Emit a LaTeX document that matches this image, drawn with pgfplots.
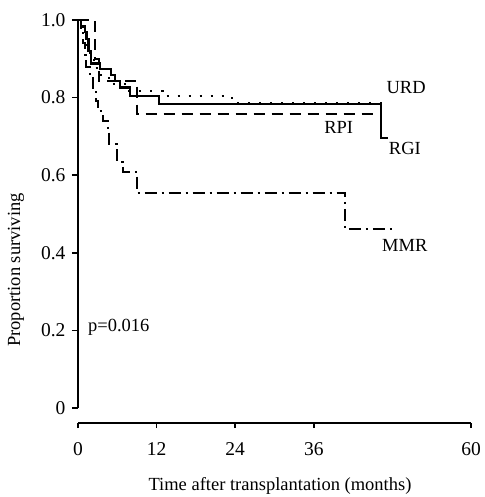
\documentclass[border=0pt]{standalone}
\usepackage{pgfplots}
\pgfplotsset{compat=1.18}
\usepackage{fontspec}
\setmainfont{Liberation Serif}

\newcommand{\lab}{\fontsize{18.5bp}{20bp}\selectfont}

\begin{document}
\begin{tikzpicture}
\path[use as bounding box] (-78bp,-89bp) rectangle (407bp,408bp);
\begin{axis}[
  at={(0,0)}, anchor=south west,
  scale only axis, width=393bp, height=388bp,
  xmin=0, xmax=60, ymin=0, ymax=1,
  axis x line=none, axis y line=left,
  y axis line style={-, line width=1.9bp},
  ytick={0,0.2,0.4,0.6,0.8,1.0},
  yticklabels={0,0.2,0.4,0.6,0.8,1.0},
  tick align=outside, major tick length=6bp,
  ytick style={line width=1.6bp, black},
  yticklabel style={font=\fontsize{19.5bp}{21bp}\selectfont, xshift=-3bp},
  clip=false,
]
% RGI
\addplot[const plot, black, line width=2.1bp] coordinates {
(0,1.0) (0.4,0.985) (1.0,0.97) (1.3,0.95) (1.6,0.92) (2.0,0.888)
(3.3,0.873) (5.1,0.858) (5.6,0.843) (6.4,0.826) (8.0,0.804)
(12.4,0.784) (46.3,0.696) (47.3,0.696)};
% URD
\addplot[const plot, black, line width=2bp, dash pattern=on 2bp off 9bp] coordinates {
(0,1.0) (0.8,0.97) (1.3,0.93) (1.8,0.90) (2.4,0.875) (3.5,0.85)
(5.0,0.835) (7.5,0.818) (13.0,0.803) (23.5,0.786) (47.7,0.786)};
% RPI
\addplot[const plot, black, line width=2bp, dash pattern=on 11bp off 7bp] coordinates {
(0,1.0) (2.55,0.90) (3.25,0.843) (9.05,0.757) (45.8,0.757)};
% MMR
\addplot[const plot, black, line width=2bp, dash pattern=on 12bp off 5bp on 2bp off 5bp] coordinates {
(0,1.0) (0.4,0.97) (0.7,0.94) (1.0,0.91) (1.2,0.88) (1.8,0.85)
(2.3,0.82) (2.7,0.79) (3.0,0.765) (3.8,0.74) (4.6,0.71) (4.8,0.68)
(5.9,0.65) (6.0,0.635) (6.9,0.608) (9.05,0.553) (40.8,0.461) (48.1,0.461)};

\node[font=\lab] at (axis cs:50.1,0.827) {URD};
\node[font=\lab] at (axis cs:39.8,0.724) {RPI};
\node[font=\lab] at (axis cs:49.9,0.670) {RGI};
\node[font=\lab] at (axis cs:49.9,0.420) {MMR};
\node[font=\lab, anchor=west] at (axis cs:1.0,0.209) {p=0.016};
\end{axis}

\begin{axis}[
  at={(0,-15bp)}, anchor=south west,
  scale only axis, width=393bp, height=1bp,
  xmin=0, xmax=60, ymin=0, ymax=1,
  axis x line=bottom, axis y line=none,
  x axis line style={-, line width=1.9bp},
  xtick={0,12,24,36,60},
  xticklabels={0,12,24,36,60},
  tick align=outside, major tick length=5bp,
  xtick style={line width=1.6bp, black},
  xticklabel style={font=\fontsize{19.5bp}{21bp}\selectfont, yshift=-11bp},
]
\end{axis}

\node[font=\lab, rotate=90] at (-62bp,138bp) {Proportion surviving};
\node[font=\lab] at (202bp,-78bp) {Time after transplantation (months)};
\end{tikzpicture}
\end{document}
